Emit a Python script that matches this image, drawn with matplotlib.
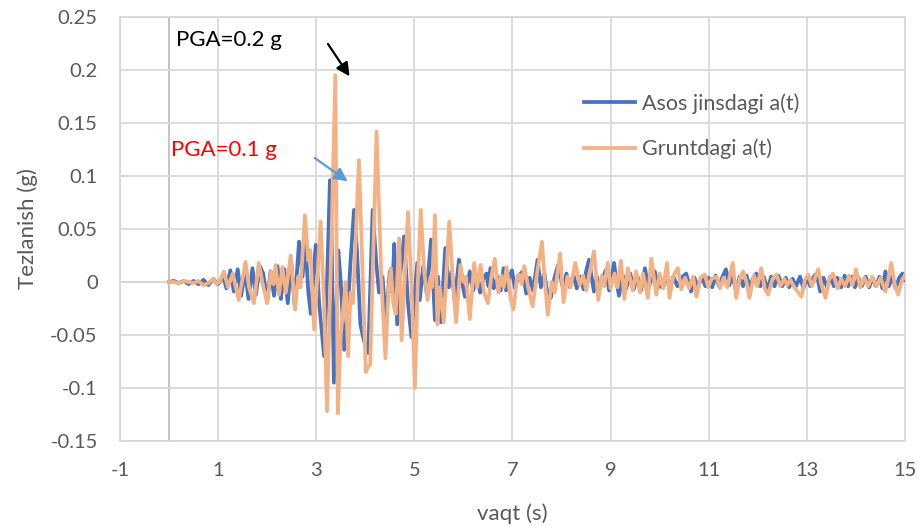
import matplotlib
matplotlib.use("Agg")
import matplotlib.pyplot as plt

plt.rcParams['font.family'] = ['Lato', 'DejaVu Sans']

# ---- data ----
t_base = [0, 0.1, 0.2, 0.3, 0.4, 0.5, 0.6, 0.7, 0.8, 0.9, 1.0, 1.1, 1.17, 1.25, 1.32, 1.4, 1.47, 1.55,
          1.62, 1.7, 1.77, 1.85, 1.92, 2.0, 2.07, 2.14, 2.21, 2.28, 2.35, 2.42, 2.49, 2.56, 2.65, 2.72,
          2.78, 2.84, 2.89, 2.95, 2.99, 3.06, 3.16, 3.22, 3.28, 3.31, 3.36, 3.45, 3.50, 3.57, 3.64, 3.70,
          3.77, 3.83, 3.90, 3.97, 4.06, 4.15, 4.22, 4.28, 4.35, 4.42, 4.50, 4.55, 4.59, 4.65, 4.72, 4.79,
          4.87, 4.94, 5.01, 5.06, 5.11, 5.18, 5.25, 5.34, 5.42, 5.48, 5.54, 5.63, 5.70, 5.76, 5.82, 5.91,
          5.97, 6.03, 6.13, 6.20, 6.27, 6.34, 6.41, 6.47, 6.51, 6.55, 6.62, 6.69, 6.76, 6.82, 6.87, 6.93,
          6.99, 7.05, 7.12, 7.21, 7.28, 7.35, 7.42, 7.51, 7.58, 7.65, 7.71, 7.78, 7.86, 7.93, 8.03, 8.10,
          8.17, 8.24, 8.31, 8.38, 8.45, 8.50, 8.56, 8.66, 8.72, 8.78, 8.84, 8.90, 8.97, 9.03, 9.07, 9.12,
          9.17, 9.25, 9.32, 9.40, 9.47, 9.55, 9.62, 9.70, 9.77, 9.84, 9.90, 9.97, 10.07, 10.14, 10.21,
          10.28, 10.36, 10.44, 10.54, 10.64, 10.71, 10.78, 10.86, 10.93, 11.0, 11.07, 11.14, 11.21, 11.28,
          11.35, 11.42, 11.48, 11.56, 11.63, 11.70, 11.77, 11.84, 11.90, 11.97, 12.05, 12.12, 12.20, 12.27,
          12.34, 12.42, 12.50, 12.57, 12.64, 12.71, 12.78, 12.86, 12.93, 13.00, 13.07, 13.14, 13.20, 13.27,
          13.34, 13.41, 13.48, 13.55, 13.62, 13.70, 13.77, 13.84, 13.91, 13.98, 14.05, 14.12, 14.20, 14.27,
          14.34, 14.41, 14.48, 14.54, 14.60, 14.67, 14.74, 14.81, 14.88, 14.95, 15.0]
a_base = [0, 0.001, -0.001, 0.001, -0.002, 0.001, -0.002, 0.002, -0.003, 0.003, -0.002, 0.006, -0.006,
          0.011, -0.009, 0.012, -0.013, 0.010, -0.016, 0.013, -0.012, 0.015, 0.008, -0.019, 0.010, -0.013,
          0.015, -0.016, 0.012, -0.020, 0.018, -0.022, 0.038, 0.005, 0.036, -0.010, -0.030, 0.010, 0.035,
          -0.020, -0.070, 0.0, 0.096, 0.05, -0.095, 0.030, 0.0, -0.064, -0.03, 0.02, 0.068, 0.03, -0.04,
          -0.055, -0.067, 0.068, 0.020, -0.010, 0.005, -0.036, 0.010, -0.010, 0.036, -0.040, 0.010, 0.043,
          -0.02, -0.052, -0.010, 0.018, -0.017, 0.015, -0.010, 0.040, -0.036, 0.005, -0.038, 0.032, -0.005,
          0.010, -0.017, 0.021, 0.0, -0.014, 0.010, -0.008, 0.006, -0.010, 0.004, 0.008, -0.004, 0.013,
          -0.006, 0.005, -0.008, 0.013, -0.008, 0.004, 0.011, -0.006, 0.006, 0.010, -0.011, 0.004, -0.008,
          0.021, -0.005, 0.008, -0.010, -0.015, 0.005, 0.016, -0.006, 0.008, -0.005, 0.007, -0.006, 0.005,
          -0.007, 0.010, 0.021, -0.009, 0.005, -0.006, 0.004, 0.011, -0.008, 0.006, 0.018, 0.0, -0.013,
          0.006, -0.006, 0.008, -0.007, 0.005, -0.008, 0.013, -0.006, 0.004, 0.010, -0.004, -0.005, 0.006,
          -0.006, 0.005, -0.004, 0.004, 0.008, -0.009, 0.004, -0.005, 0.005, -0.004, 0.004, -0.005, 0.006,
          -0.004, 0.005, 0.012, -0.003, 0.006, -0.009, 0.005, -0.004, 0.006, -0.005, 0.003, 0.008, -0.004,
          0.005, -0.008, 0.005, -0.004, 0.006, -0.004, 0.004, -0.005, 0.003, -0.004, 0.005, -0.006, 0.004,
          -0.004, 0.005, 0.008, -0.009, 0.004, -0.005, 0.005, -0.004, 0.004, -0.005, 0.006, -0.004, 0.005,
          -0.005, 0.004, -0.004, 0.005, -0.005, 0.004, -0.004, 0.005, -0.006, 0.010, -0.004, 0.005, -0.006,
          0.004, 0.008, 0.002]

t_soil = [0, 0.1, 0.2, 0.3, 0.4, 0.5, 0.6, 0.7, 0.8, 0.9, 0.97, 1.05, 1.12, 1.2, 1.3, 1.42, 1.56, 1.63,
          1.73, 1.83, 1.9, 2.0, 2.08, 2.13, 2.17, 2.24, 2.31, 2.38, 2.48, 2.57, 2.63, 2.68, 2.77, 2.84,
          2.88, 2.96, 3.03, 3.09, 3.16, 3.22, 3.30, 3.39, 3.44, 3.50, 3.54, 3.60, 3.65, 3.70, 3.75, 3.87,
          4.01, 4.06, 4.10, 4.23, 4.33, 4.41, 4.47, 4.52, 4.57, 4.62, 4.69, 4.74, 4.80, 4.87, 4.94, 5.01,
          5.07, 5.13, 5.20, 5.27, 5.33, 5.36, 5.42, 5.47, 5.52, 5.60, 5.71, 5.78, 5.85, 5.94, 6.00, 6.05,
          6.13, 6.22, 6.28, 6.35, 6.42, 6.50, 6.57, 6.64, 6.71, 6.77, 6.82, 6.88, 6.96, 7.02, 7.09, 7.14,
          7.19, 7.24, 7.32, 7.41, 7.50, 7.60, 7.66, 7.72, 7.80, 7.86, 7.97, 8.04, 8.12, 8.18, 8.28, 8.37,
          8.44, 8.50, 8.58, 8.66, 8.75, 8.82, 8.87, 8.94, 9.00, 9.08, 9.14, 9.21, 9.28, 9.35, 9.45, 9.52,
          9.60, 9.66, 9.76, 9.83, 9.93, 10.0, 10.07, 10.15, 10.20, 10.28, 10.37, 10.44, 10.52, 10.60,
          10.68, 10.75, 10.83, 10.92, 10.99, 11.06, 11.16, 11.23, 11.30, 11.38, 11.49, 11.56, 11.63, 11.70,
          11.77, 11.83, 11.92, 11.99, 12.07, 12.14, 12.21, 12.30, 12.38, 12.46, 12.54, 12.60, 12.66, 12.76,
          12.89, 12.96, 13.03, 13.10, 13.17, 13.23, 13.30, 13.38, 13.45, 13.53, 13.63, 13.70, 13.78, 13.86,
          13.93, 14.00, 14.09, 14.17, 14.25, 14.33, 14.42, 14.50, 14.60, 14.66, 14.72, 14.79, 14.86, 14.93,
          15.0]
a_soil = [0, 0.0, -0.001, 0.001, 0.0, -0.001, 0.001, -0.003, -0.001, 0.003, -0.002, 0.002, 0.010, -0.005,
          0.008, -0.017, 0.019, -0.005, -0.020, 0.018, 0.0, -0.020, 0.010, -0.002, 0.016, -0.012, 0.014,
          -0.010, 0.025, -0.026, 0.005, -0.005, 0.063, 0.02, 0.03, -0.045, 0.01, 0.057, -0.02, -0.122, 0.02,
          0.195, -0.124, -0.05, -0.03, 0.0, -0.070, -0.010, -0.02, 0.115, -0.085, -0.080, -0.078, 0.142, 0.0,
          -0.072, -0.01, 0.013, -0.02, -0.03, 0.041, -0.055, 0.0, 0.066, 0.0, -0.100, 0.0, 0.068, 0.01,
          -0.017, 0.005, -0.005, 0.063, -0.040, -0.005, -0.038, 0.057, 0.005, -0.038, 0.016, 0.0, 0.005,
          -0.035, 0.018, -0.005, 0.016, -0.010, -0.020, 0.005, 0.022, -0.010, 0.006, -0.005, 0.014, -0.015,
          -0.026, 0.003, 0.007, -0.002, 0.015, -0.005, -0.023, 0.008, 0.038, 0.0, -0.031, 0.0, -0.010, 0.027,
          -0.019, 0.005, -0.005, 0.018, -0.003, 0.006, -0.008, 0.010, 0.029, -0.017, 0.006, -0.004, 0.018,
          -0.006, 0.008, -0.005, 0.020, -0.016, 0.013, -0.008, 0.010, -0.010, 0.008, -0.015, 0.022, -0.012,
          0.008, -0.006, 0.018, -0.015, 0.006, 0.013, -0.007, 0.004, -0.006, 0.005, -0.014, 0.004, 0.007,
          -0.005, 0.003, 0.005, -0.006, 0.004, -0.005, 0.018, -0.015, 0.003, 0.010, 0.0, -0.015, 0.006,
          -0.004, 0.013, -0.006, -0.012, 0.003, 0.007, -0.004, 0.003, -0.003, 0.002, -0.006, -0.014, 0.002,
          0.007, -0.004, 0.004, 0.012, -0.003, -0.015, 0.002, 0.008, -0.006, 0.003, -0.004, 0.006, -0.003,
          0.012, -0.005, 0.004, -0.004, 0.005, -0.004, 0.004, -0.009, 0.003, 0.018, -0.002, -0.012, 0.000,
          0.007]

x_ticks = [-1, 1, 3, 5, 7, 9, 11, 13, 15]
y_ticks = [-0.15, -0.1, -0.05, 0, 0.05, 0.1, 0.15, 0.2, 0.25]
y_tick_labels = ['-0.15', '-0.1', '-0.05', '0', '0.05', '0.1', '0.15', '0.2', '0.25']
series_names = ['Asos jinsdagi a(t)', 'Gruntdagi a(t)']

# ---- figure ----
fig = plt.figure(figsize=(9.2, 5.26), dpi=100)
ax = fig.add_axes([0.1304, 0.1616, 0.8533, 0.8061])

grid_c = '#D9D9D9'
ax.plot(t_base, a_base, color='#4472C4', lw=2.7, label=series_names[0],
        solid_joinstyle='round', zorder=3)
ax.plot(t_soil, a_soil, color='#F4B183', lw=2.7, label=series_names[1],
        solid_joinstyle='round', zorder=4)

ax.set_xlim(-1, 15)
ax.set_ylim(-0.15, 0.25)
ax.set_xticks(x_ticks)
ax.set_xticklabels([str(v) for v in x_ticks])
ax.set_yticks(y_ticks)
ax.set_yticklabels(y_tick_labels)
ax.grid(True, color=grid_c, lw=1.3, zorder=0)
for s in ax.spines.values():
    s.set_color(grid_c)
    s.set_linewidth(1.3)
ax.axvline(0, color='#BFBFBF', lw=1.3, zorder=1)
ax.axhline(0, color='#BFBFBF', lw=1.3, zorder=1)
ax.tick_params(length=0, labelsize=14.5, labelcolor='#595959')
ax.tick_params(axis='y', pad=16)
ax.tick_params(axis='x', pad=15)

ax.set_xlabel('vaqt (s)', fontsize=16, color='#595959', labelpad=18)
ax.set_ylabel('Tezlanish (g)', fontsize=16, color='#595959', labelpad=9)

leg = ax.legend(loc='upper left', bbox_to_anchor=(0.566, 0.866), frameon=False,
                fontsize=15.5, handlelength=2.4, handletextpad=0.3, labelspacing=1.15,
                labelcolor='#595959')

ax.text(0.15, 0.228, 'PGA=0.2 g', fontsize=16, color='black', va='center', ha='left', zorder=6)
ax.text(0.03, 0.1245, 'PGA=0.1 g', fontsize=16, color='red', va='center', ha='left', zorder=6)
ax.annotate('', xy=(3.68, 0.194), xytext=(3.24, 0.2245),
            arrowprops=dict(arrowstyle='-|>', color='black', lw=1.6, mutation_scale=20,
                            shrinkA=0, shrinkB=0), zorder=6)
ax.annotate('', xy=(3.64, 0.095), xytext=(2.97, 0.117),
            arrowprops=dict(arrowstyle='-|>', color='#5B9BD5', lw=1.6, mutation_scale=20,
                            shrinkA=0, shrinkB=0), zorder=6)

fig.savefig('out.png', dpi=100)
